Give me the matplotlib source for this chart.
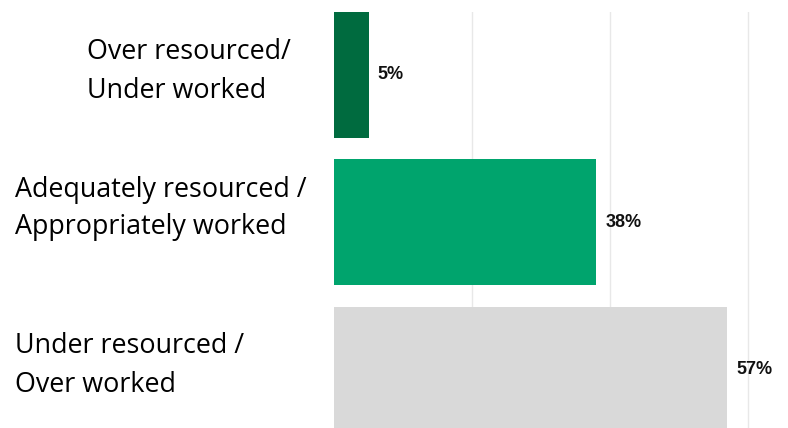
import matplotlib
matplotlib.use("Agg")
import matplotlib.pyplot as plt

# Survey responses: how resourced / worked do staff feel
categories = [
    "Over resourced/\nUnder worked",
    "Adequately resourced /\nAppropriately worked",
    "Under resourced /\nOver worked",
]
values = [5, 38, 57]
value_labels = ["5%", "38%", "57%"]
bar_colors = ["#006B3F", "#00A46D", "#D9D9D9"]
grid_ticks = [20, 40, 60]

W, H = 788, 428
DPI = 100
fig = plt.figure(figsize=(W / DPI, H / DPI), dpi=DPI)

# axes spans from the bar baseline to the right edge
ax_left, ax_top = 334, 12
ax = fig.add_axes([ax_left / W, 0, 1 - ax_left / W, (H - ax_top) / H])

px_per_unit = (748 - 334) / 60.0
ax.set_xlim(0, (W - ax_left) / px_per_unit)

row_step = 147.5
bar_h = 126 / row_step
ypos = list(range(len(categories)))
top_lim = -bar_h / 2
bottom_lim = top_lim + (H - ax_top) / row_step
ax.set_ylim(bottom_lim, top_lim)

for g in grid_ticks:
    ax.axvline(g, color="#E8E8E8", linewidth=1.0, zorder=0)

ax.barh(ypos, values, height=bar_h, color=bar_colors, zorder=2)

for y, v, lab in zip(ypos, values, value_labels):
    ax.annotate(lab, xy=(v, y), xytext=(6.5, 0), textcoords="offset points",
                ha="left", va="center", fontsize=13, fontweight="bold",
                family="Liberation Sans", color="#111111")

for s in ax.spines.values():
    s.set_visible(False)
ax.set_xticks([])
ax.set_yticks([])

# category labels, placed line by line (left x, baselines in pixels)
label_left = [87, 15, 15]
label_baselines = [(59, 98), (197, 234), (353, 392)]
for text, x0, bases in zip(categories, label_left, label_baselines):
    for line, yb in zip(text.split("\n"), bases):
        fig.text(x0 / W, 1 - yb / H, line, ha="left", va="baseline",
                 fontsize=19.4, family="Open Sans", color="#000000")

fig.savefig("out.png", dpi=DPI)
